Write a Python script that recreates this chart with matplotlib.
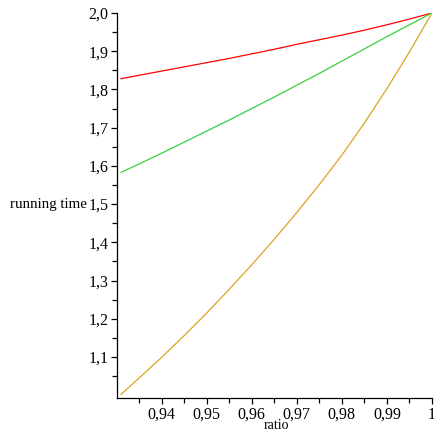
import matplotlib.pyplot as plt
import numpy as np
from matplotlib.ticker import FixedLocator

plt.rcParams["font.family"] = ["Liberation Serif", "DejaVu Serif"]

# values
ratio = [0.931, 0.935, 0.94, 0.945, 0.95, 0.955, 0.96, 0.965, 0.97, 0.975, 0.98, 0.985, 0.99, 0.995, 1.0]
red_time = [1.828, 1.837, 1.848, 1.859, 1.870, 1.881, 1.893, 1.905, 1.918, 1.930, 1.942, 1.955, 1.969, 1.984, 2.0]
green_time = [1.583, 1.605, 1.633, 1.662, 1.691, 1.720, 1.750, 1.780, 1.811, 1.842, 1.874, 1.906, 1.938, 1.969, 2.0]
gold_time = [1.002, 1.045, 1.099, 1.156, 1.215, 1.277, 1.341, 1.408, 1.478, 1.551, 1.628, 1.712, 1.802, 1.898, 2.0]

x_ticks = [0.94, 0.95, 0.96, 0.97, 0.98, 0.99, 1.0]
x_labels = ["0,94", "0,95", "0,96", "0,97", "0,98", "0,99", "1"]
y_ticks = [1.1, 1.2, 1.3, 1.4, 1.5, 1.6, 1.7, 1.8, 1.9, 2.0]
y_labels = ["1,1", "1,2", "1,3", "1,4", "1,5", "1,6", "1,7", "1,8", "1,9", "2,0"]

fig = plt.figure(figsize=(4.35, 4.32), dpi=100)
ax = fig.add_axes([0.270, 0.078, 0.723, 0.892])

ax.plot(ratio, red_time, color="#ff0000", lw=0.9)
ax.plot(ratio, green_time, color="#3bcf3b", lw=0.9)
ax.plot(ratio, gold_time, color="#daa520", lw=0.9)

ax.set_xlim(0.9302, 1.0)
ax.set_ylim(0.992, 2.0)

for side in ["top", "right"]:
    ax.spines[side].set_visible(False)
for side in ["left", "bottom"]:
    ax.spines[side].set_linewidth(0.9)

ax.set_xticks(x_ticks)
ax.set_xticklabels(x_labels)
ax.set_yticks(y_ticks)
ax.set_yticklabels(y_labels)
ax.xaxis.set_minor_locator(FixedLocator([0.935, 0.945, 0.955, 0.965, 0.975, 0.985, 0.995]))
ax.yaxis.set_minor_locator(FixedLocator(np.arange(1.05, 2.0, 0.1)))
ax.tick_params(which="major", length=4.5, width=0.9, labelsize=11.5, pad=2, colors="black")
ax.tick_params(which="minor", length=3.5, width=0.9)
ax.tick_params(axis="x", pad=1.5)

ax.set_ylabel("running time", rotation=0, ha="right", va="center", fontsize=10.8)
ax.yaxis.set_label_coords(-0.097, 0.504)
ax.set_xlabel("ratio", fontsize=10, va="bottom")
ax.xaxis.set_label_coords(0.504, -0.0868)

fig.savefig("out.png", dpi=100)
